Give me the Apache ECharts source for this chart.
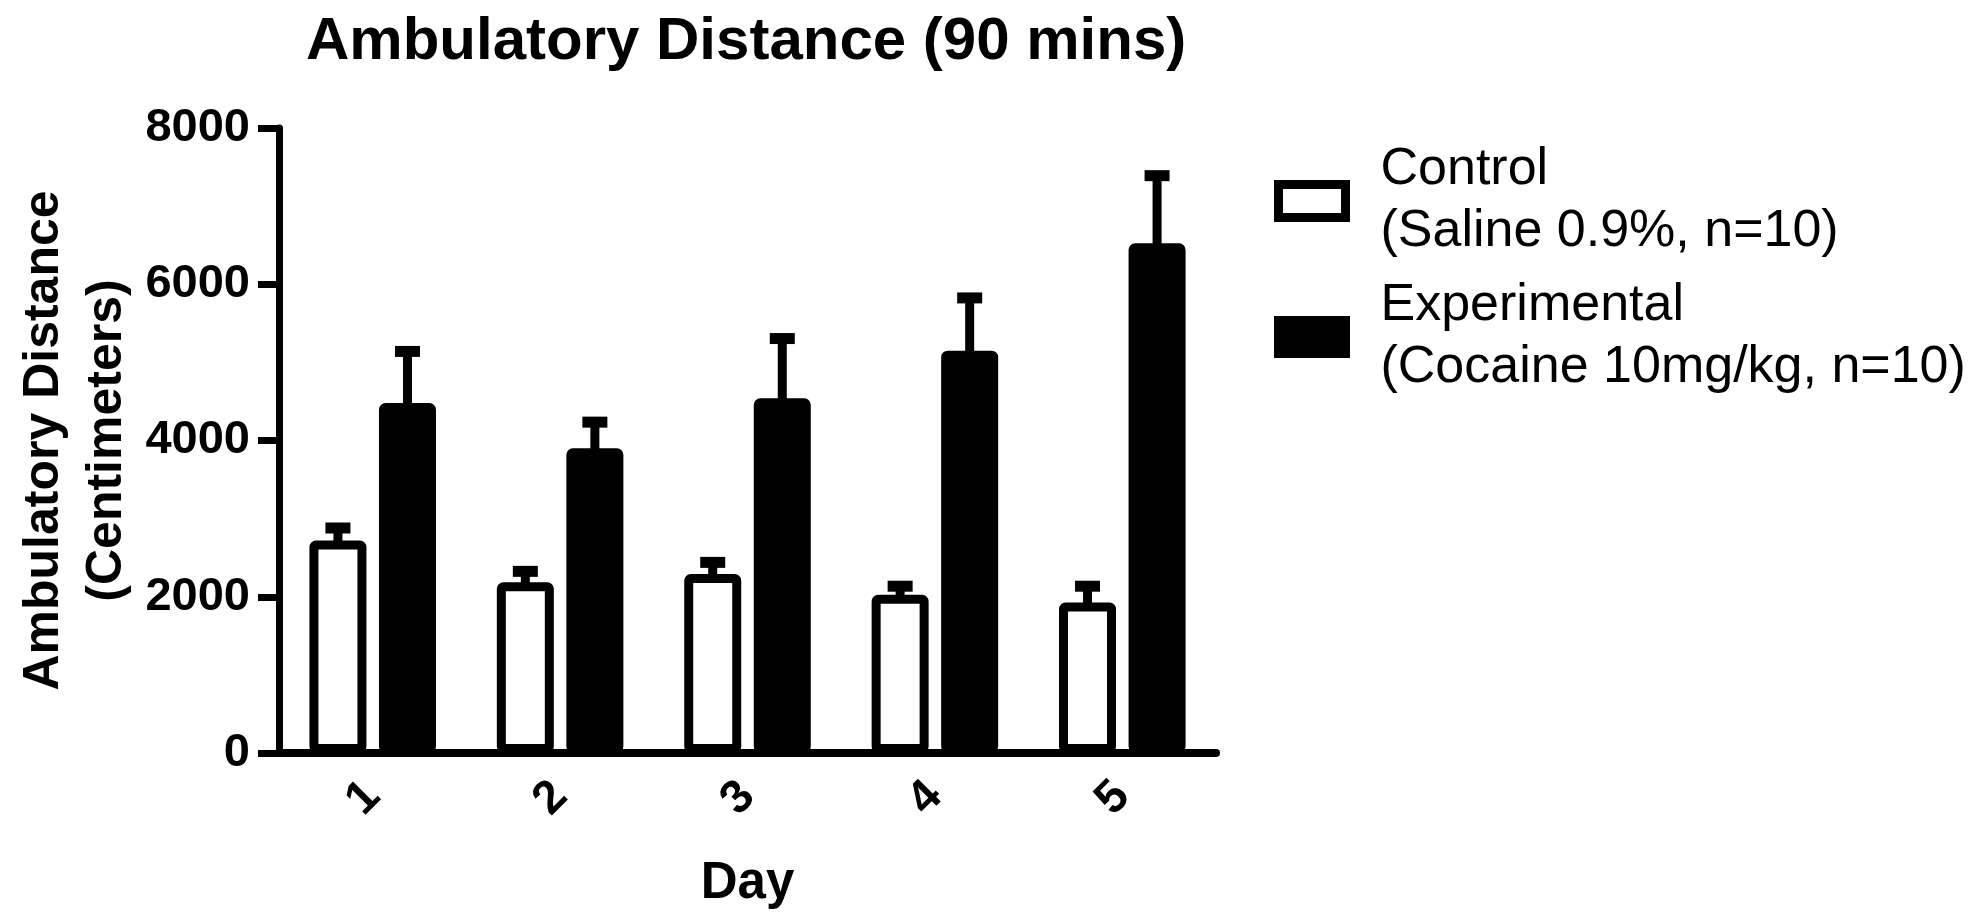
<!DOCTYPE html>
<html>
<head>
<meta charset="utf-8">
<script src="https://cdn.jsdelivr.net/npm/echarts@6/dist/echarts.min.js"></script>
<style>
  html, body { margin: 0; padding: 0; background: #ffffff; }
  #chart { width: 1979px; height: 915px; }
</style>
</head>
<body>
<div id="chart"></div>
<script>
// ---- data ----
const days = ['1', '2', '3', '4', '5'];
const controlName = 'Control\n(Saline 0.9%, n=10)';
const experimentalName = 'Experimental\n(Cocaine 10mg/kg, n=10)';
const controlMean = [2720, 2185, 2290, 2025, 1925];
const controlSem = [160, 140, 150, 110, 210];
const experimentalMean = [4480, 3900, 4540, 5150, 6525];
const experimentalSem = [660, 335, 765, 675, 865];
const yTicks = [0, 2000, 4000, 6000, 8000];

// ---- styling constants ----
const FONT = '"Liberation Sans", Arial, Helvetica, sans-serif';
const BAR_W = 57;
const BAR_GAP = 0.22;
const BORDER = 9;

const chart = echarts.init(document.getElementById('chart'), null, { renderer: 'canvas' });

function errRows(means, sems) {
  return means.map((m, i) => [i, m, sems[i]]);
}

function errorRenderer(side) {
  return function (params, api) {
    const cat = api.value(0);
    const val = api.value(1);
    const err = api.value(2);
    const p0 = api.coord([cat, val]);
    const p1 = api.coord([cat, val + err]);
    const off = side * (BAR_W + BAR_W * BAR_GAP) / 2;
    const x = p0[0] + off;
    return {
      type: 'group',
      children: [
        { type: 'line', shape: { x1: x, y1: p0[1] + 4, x2: x, y2: p1[1] },
          style: { stroke: '#000', lineWidth: 9 } },
        { type: 'line', shape: { x1: x - 12.5, y1: p1[1], x2: x + 12.5, y2: p1[1] },
          style: { stroke: '#000', lineWidth: 11 } }
      ]
    };
  };
}

const option = {
  backgroundColor: '#ffffff',
  animation: false,
  title: {
    text: 'Ambulatory Distance (90 mins)',
    left: 306,
    top: 11,
    padding: 0,
    textStyle: { fontFamily: FONT, fontSize: 60, fontWeight: 'bold', color: '#000', lineHeight: 62 }
  },
  legend: {
    data: [controlName, experimentalName],
    orient: 'vertical',
    left: 1274,
    top: 139,
    padding: 0,
    itemWidth: 67,
    itemHeight: 33,
    itemGap: 12,
    selectedMode: false,
    icon: 'rect',
    itemStyle: { borderColor: '#000', borderWidth: BORDER },
    textStyle: { fontFamily: FONT, fontSize: 52, color: '#000', lineHeight: 62, padding: [0, 0, 0, 30] }
  },
  grid: { left: 279, top: 128, right: 763, bottom: 162, containLabel: false },
  xAxis: {
    type: 'category',
    data: days,
    name: 'Day',
    nameLocation: 'middle',
    nameGap: 105,
    nameTextStyle: { fontFamily: FONT, fontSize: 51, fontWeight: 'bold', color: '#000', lineHeight: 51 },
    axisLine: { lineStyle: { color: '#000', width: 8 } },
    axisTick: { alignWithLabel: true, length: 19, lineStyle: { color: '#000', width: 7 } },
    axisLabel: { rotate: 45, margin: 36, fontFamily: FONT, fontSize: 47, fontWeight: 'bold', color: '#000' }
  },
  yAxis: {
    type: 'value',
    min: yTicks[0],
    max: yTicks[yTicks.length - 1],
    interval: yTicks[1] - yTicks[0],
    name: 'Ambulatory Distance\n(Centimeters)',
    nameLocation: 'middle',
    nameRotate: 90,
    nameGap: 140,
    nameTextStyle: { fontFamily: FONT, fontSize: 50, fontWeight: 'bold', color: '#000', lineHeight: 63 },
    splitLine: { show: false },
    axisLine: { show: true, lineStyle: { color: '#000', width: 7 } },
    axisTick: { show: true, length: 21, lineStyle: { color: '#000', width: 7 } },
    axisLabel: {
      margin: 29, fontFamily: FONT, fontSize: 47, fontWeight: 'bold', color: '#000',
      formatter: function (v) { return String(v); }
    }
  },
  series: [
    {
      name: controlName,
      type: 'bar',
      data: controlMean,
      barWidth: BAR_W,
      barGap: (BAR_GAP * 100) + '%',
      itemStyle: { color: '#ffffff', borderColor: '#000', borderWidth: BORDER, borderRadius: 2 },
      z: 2
    },
    {
      name: experimentalName,
      type: 'bar',
      data: experimentalMean,
      barWidth: BAR_W,
      barGap: (BAR_GAP * 100) + '%',
      itemStyle: { color: '#000000', borderColor: '#000', borderWidth: BORDER, borderRadius: 2 },
      z: 2
    },
    {
      name: 'controlError',
      type: 'custom',
      data: errRows(controlMean, controlSem),
      encode: { x: 0, y: 1 },
      renderItem: errorRenderer(-1),
      z: 3
    },
    {
      name: 'experimentalError',
      type: 'custom',
      data: errRows(experimentalMean, experimentalSem),
      encode: { x: 0, y: 1 },
      renderItem: errorRenderer(1),
      z: 3
    }
  ]
};

chart.setOption(option);
</script>
</body>
</html>
